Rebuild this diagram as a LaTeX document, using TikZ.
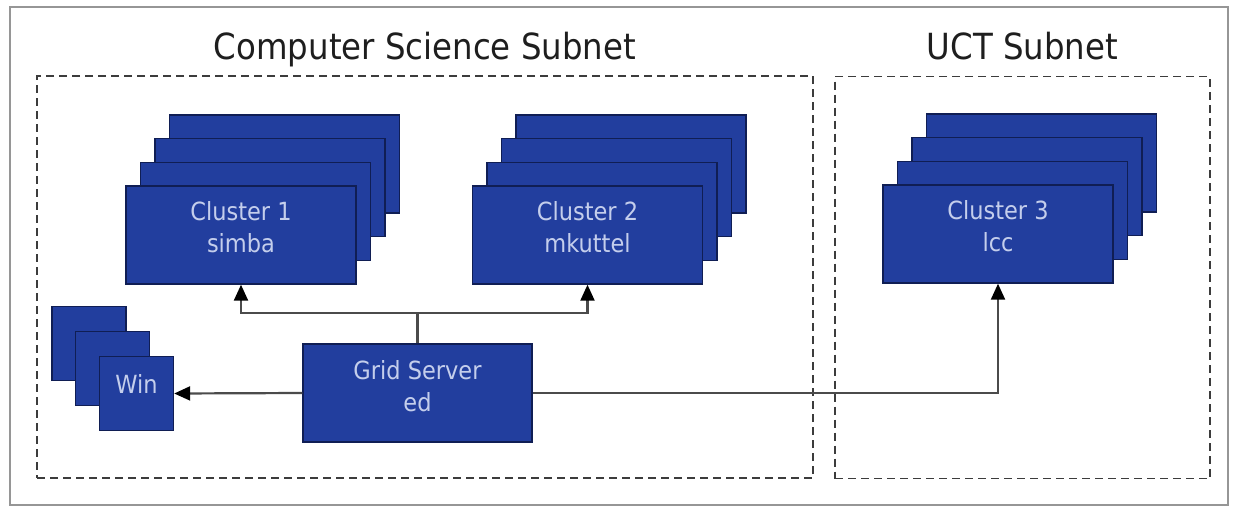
\documentclass[tikz,border=0pt]{standalone}
\usepackage{fontspec}
\setmainfont{DejaVu Sans}[FakeStretch=0.9]
\usepackage{xcolor}
\usepackage{tikz}
\usetikzlibrary{positioning,arrows.meta}

\definecolor{cardblue}{RGB}{34,62,158}
\definecolor{cardedge}{RGB}{16,30,84}
\definecolor{cardtext}{RGB}{196,206,236}
\definecolor{linkgray}{RGB}{75,75,75}
\definecolor{dashgray}{RGB}{60,60,60}
\definecolor{framegray}{RGB}{150,150,150}
\definecolor{titlegray}{RGB}{30,30,30}

\begin{document}
\begin{tikzpicture}[x=1pt,y=-1pt,
	card/.style={draw=cardedge,fill=cardblue,line width=1.4pt,minimum width=230pt,minimum height=98pt},
	wincard/.style={card,minimum width=74pt,minimum height=74pt},
	cardlabel/.style={text=cardtext,align=center,font=\fontsize{25}{32}\selectfont},
	subnet/.style={draw=dashgray,dash pattern=on 8pt off 5pt,line width=1.5pt,minimum height=402pt},
	title/.style={inner sep=0pt,text depth=0pt,text=titlegray,font=\fontsize{36}{40}\selectfont},
	link/.style={draw=linkgray,line width=2.2pt},
	arr/.style={link,-{Triangle[length=16pt,width=14pt,color=black]}}]
	\useasboundingbox (0,0) rectangle (1238,506);
	\draw[framegray,line width=1.5pt] (10,7) rectangle (1228,505);

	% Subnetze
	\node[subnet,minimum width=776pt] (cs) at (425,277) {};
	\node[subnet,minimum width=375pt] (uct) at (1022.5,277.5) {};
	\node[title,above=16pt of cs] (cstitle) {Computer Science Subnet};
	\node[title,above=16pt of uct] (ucttitle) {UCT Subnet};

	% Cluster 1
	\node[card] (c1d) at (284.5,163.9) {};
	\node[card] (c1c) at (270,187.6) {};
	\node[card] (c1b) at (255.5,211.3) {};
	\node[card,label={[cardlabel,yshift=7.5pt]center:{Cluster 1\\simba}}] (c1) at (241,235) {};

	% Cluster 2
	\node[card] (c2d) at (631,163.9) {};
	\node[card] (c2c) at (616.5,187.6) {};
	\node[card] (c2b) at (602,211.3) {};
	\node[card,label={[cardlabel,yshift=7.5pt]center:{Cluster 2\\mkuttel}}] (c2) at (587.5,235) {};

	% Cluster 3
	\node[card] (c3d) at (1041.5,162.9) {};
	\node[card] (c3c) at (1027,186.6) {};
	\node[card] (c3b) at (1012.5,210.3) {};
	\node[card,label={[cardlabel,yshift=7.5pt]center:{Cluster 3\\lcc}}] (c3) at (998,234) {};

	% Windows-Rechner
	\node[wincard] (win3) at (89,343.5) {};
	\node[wincard] (win2) at (112.5,368.5) {};
	\node[wincard,label={[cardlabel,yshift=10pt]center:Win}] (win) at (136.5,393.5) {};

	% Grid-Server
	\node[card,minimum width=229pt,label={[cardlabel,yshift=6.5pt]center:{Grid Server\\ed}}] (gs) at (417.5,393) {};

	% Verbindungen
	\draw[link] (gs.north) -- ++(0,-30) coordinate (split);
	\draw[arr] (split) -| (c1.south);
	\draw[arr] (split) -| (c2.south);
	\draw[arr] (gs.west) -- (win.east);
	\draw[arr] (gs.east) -| (c3.south);
\end{tikzpicture}
\end{document}
